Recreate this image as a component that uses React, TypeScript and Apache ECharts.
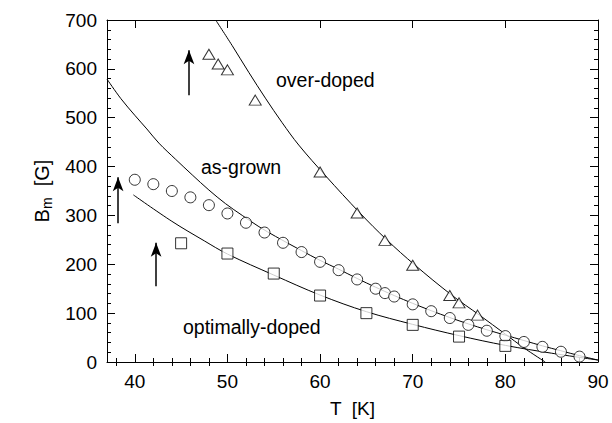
import React, { useEffect, useRef } from "react";
import * as echarts from "echarts";

// Measured points
const overT = [48, 49, 50, 53, 60, 64, 67, 70, 74, 75, 77];
const overB = [630, 610, 598, 536, 389, 305, 249, 198, 136, 121, 96];

const grownT = [40, 42, 44, 46, 48, 50, 52, 54, 56, 58, 60, 62, 64, 66, 67, 68, 70, 72, 74, 76, 78, 80, 82, 84, 86, 88];
const grownB = [373, 364, 350, 337, 321, 304, 285, 265, 244, 225, 205, 188, 169, 150, 141, 134, 118, 104, 90, 76, 64, 53, 41, 31, 21, 11];

const optT = [45, 50, 55, 60, 65, 70, 75, 80];
const optB = [243, 222, 181, 136, 100, 76, 52, 33];

// Fit curves
const overFitT = [48.73, 50.5, 52.3, 54.1, 55.9, 57.7, 60.6, 64.3, 67.2, 70.2, 74.2, 77.2, 80, 82, 84.3];
const overFitB = [700, 648, 593, 540, 490, 444, 381, 305, 250, 199, 137, 96, 57, 29, 0];

const grownFitT = [37, 38.5, 40, 41.3, 42.6, 44.4, 46.2, 48, 49.8, 51.6, 53.4, 55.2, 58, 60, 62, 64, 66, 68, 70, 72, 74, 76, 78, 80, 82, 84, 86, 88, 90];
const grownFitB = [579, 539, 505, 477, 448, 415, 383, 352, 324, 300, 277, 257, 228, 208, 190, 171, 153, 136, 120, 105, 91, 78, 66, 55, 44, 33, 23, 13, 4];

const optFitT = [39.85, 44, 47.5, 50, 55, 60, 65, 70, 75, 80, 85, 90];
const optFitB = [342, 288, 248, 221, 178, 137, 103, 77, 54, 34, 18, 4];

// Arrows: [T, tail B, tip B]
const arrows = [
  [45.85, 546, 638],
  [38.2, 284, 378],
  [42.3, 155, 244],
];

const xMajor = [40, 50, 60, 70, 80, 90];
const xMinor = [38, 42, 44, 46, 48, 52, 54, 56, 58, 62, 64, 66, 68, 72, 74, 76, 78, 82, 84, 86, 88];

const FONT = '"Liberation Sans", Arial, Helvetica, sans-serif';

const zip = (a: number[], b: number[]) => a.map((v, i) => [v, b[i]]);

export default function App() {
  const ref = useRef<HTMLDivElement>(null);
  useEffect(() => {
    if (!ref.current) return;
    const chart = echarts.init(ref.current, undefined, { renderer: "svg" });
    const axisCommon = { type: "value", min: 37, max: 90, splitLine: { show: false } };
    const markerStyle = { color: "#fff", borderColor: "#000", borderWidth: 1 };
    const fitLine = (data: number[][]) => ({
      type: "line",
      data,
      smooth: 0.35,
      showSymbol: false,
      symbol: "none",
      lineStyle: { color: "#000", width: 1 },
      z: 2,
      silent: true,
    });
    const option: any = {
      animation: false,
      backgroundColor: "#fff",
      grid: { left: 107, right: 14, top: 20, bottom: 61 },
      xAxis: [
        {
          ...axisCommon,
          position: "bottom",
          axisLine: { show: true, onZero: false, lineStyle: { color: "#000", width: 1 } },
          axisTick: { show: true, inside: true, length: 8, customValues: xMajor, lineStyle: { color: "#000" } },
          axisLabel: { customValues: xMajor, fontSize: 19, color: "#000", fontFamily: FONT, margin: 10 },
          name: "T  [K]",
          nameLocation: "middle",
          nameGap: 37,
          nameTextStyle: { fontSize: 19, color: "#000", fontFamily: FONT },
        },
        {
          ...axisCommon,
          position: "bottom",
          axisLine: { show: false },
          axisTick: { show: true, inside: true, length: 4, customValues: xMinor, lineStyle: { color: "#000" } },
          axisLabel: { show: false },
        },
        {
          ...axisCommon,
          position: "top",
          axisLine: { show: true, onZero: false, lineStyle: { color: "#000", width: 1 } },
          axisTick: { show: true, inside: true, length: 8, customValues: xMajor, lineStyle: { color: "#000" } },
          axisLabel: { show: false },
        },
        {
          ...axisCommon,
          position: "top",
          axisLine: { show: false },
          axisTick: { show: true, inside: true, length: 4, customValues: xMinor, lineStyle: { color: "#000" } },
          axisLabel: { show: false },
        },
      ],
      yAxis: [
        {
          type: "value",
          min: 0,
          max: 700,
          interval: 100,
          position: "left",
          splitLine: { show: false },
          axisLine: { show: true, onZero: false, lineStyle: { color: "#000", width: 1 } },
          axisTick: { show: true, inside: true, length: 8, lineStyle: { color: "#000" } },
          minorTick: { show: true, splitNumber: 5, length: 4, lineStyle: { color: "#000" } },
          axisLabel: { fontSize: 19, color: "#000", fontFamily: FONT, margin: 10 },
          name: "{b|B}{s|m}{b|  [G]}",
          nameLocation: "middle",
          nameGap: 52,
          nameRotate: 90,
          nameTextStyle: {
            color: "#000",
            rich: {
              b: { fontSize: 20, fontFamily: FONT, color: "#000" },
              s: { fontSize: 14, fontFamily: FONT, color: "#000", padding: [10, 0, 0, 0] },
            },
          },
        },
        {
          type: "value",
          min: 0,
          max: 700,
          interval: 100,
          position: "right",
          splitLine: { show: false },
          axisLine: { show: true, onZero: false, lineStyle: { color: "#000", width: 1 } },
          axisTick: { show: true, inside: true, length: 8, lineStyle: { color: "#000" } },
          minorTick: { show: true, splitNumber: 5, length: 4, lineStyle: { color: "#000" } },
          axisLabel: { show: false },
        },
      ],
      series: [
        { ...fitLine(zip(overFitT, overFitB)), name: "over-fit" },
        { ...fitLine(zip(grownFitT, grownFitB)), name: "grown-fit" },
        {
          ...fitLine(zip(optFitT, optFitB)),
          name: "opt-fit",
          markLine: {
            silent: true,
            symbol: ["none", "arrow"],
            symbolSize: [8, 14],
            label: { show: false },
            lineStyle: { color: "#000", width: 1.5, type: "solid" },
            data: arrows.map((a) => [{ coord: [a[0], a[1]] }, { coord: [a[0], a[2]] }]),
          },
        },
        {
          type: "scatter",
          name: "over-doped",
          data: zip(overT, overB),
          symbol: "triangle",
          symbolSize: [12, 10],
          itemStyle: markerStyle,
          z: 5,
        },
        {
          type: "scatter",
          name: "as-grown",
          data: zip(grownT, grownB),
          symbol: "circle",
          symbolSize: 11,
          itemStyle: markerStyle,
          z: 5,
        },
        {
          type: "scatter",
          name: "optimally-doped",
          data: zip(optT, optB),
          symbol: "rect",
          symbolSize: 11,
          itemStyle: markerStyle,
          z: 5,
        },
      ],
      graphic: [
        { type: "text", x: 276, y: 80, style: { text: "over-doped", font: `19.5px ${FONT}`, fill: "#000", verticalAlign: "middle" } },
        { type: "text", x: 201, y: 167, style: { text: "as-grown", font: `19.5px ${FONT}`, fill: "#000", verticalAlign: "middle" } },
        { type: "text", x: 183, y: 327, style: { text: "optimally-doped", font: `19.5px ${FONT}`, fill: "#000", verticalAlign: "middle" } },
      ],
    };
    chart.setOption(option);
    return () => chart.dispose();
  }, []);
  return (
    <div
      ref={ref}
      style={{ position: "fixed", left: 0, top: 0, width: 612, height: 423, background: "#fff" }}
    />
  );
}
